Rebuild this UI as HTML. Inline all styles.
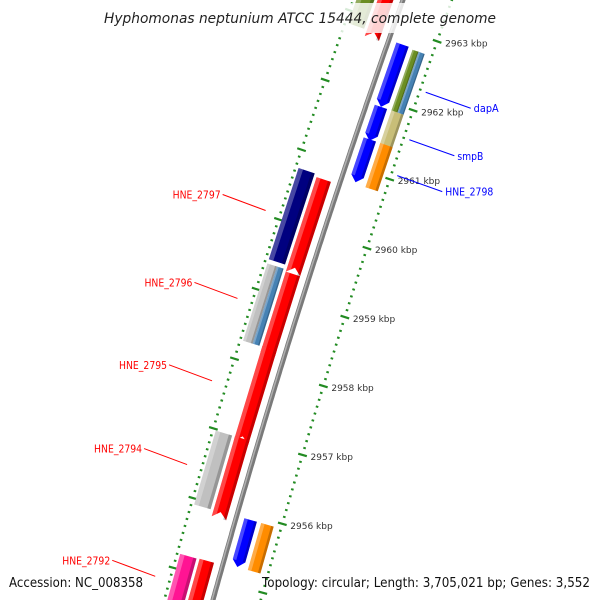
<!DOCTYPE html>
<html><head><meta charset="utf-8"><style>
html,body{margin:0;padding:0;background:#fff;}
svg{display:block;font-family:"DejaVu Sans","Liberation Sans",sans-serif;}
</style></head><body>
<svg id="map" width="600" height="600" viewBox="0 0 600 600" xmlns="http://www.w3.org/2000/svg">
<g id="ticks"></g>
<g id="backbone"></g>
<g id="features"></g>
<g id="labels"></g>
<rect x="95" y="3" width="410" height="30" fill="#fff" opacity="0.82"/>
<text x="104" y="23" textLength="392" lengthAdjust="spacingAndGlyphs" font-size="14" font-style="italic" fill="#222">Hyphomonas neptunium ATCC 15444, complete genome</text>
<text x="9" y="587" textLength="134" lengthAdjust="spacingAndGlyphs" font-size="13" fill="#111">Accession: NC_008358</text>
<text x="262" y="587" textLength="328" lengthAdjust="spacingAndGlyphs" font-size="13" fill="#111">Topology: circular; Length: 3,705,021 bp; Genes: 3,552</text>
</svg>
<script>
// Data
const tickMajors = [2956,2957,2958,2959,2960,2961,2962,2963];
const tickLabels = ["2956 kbp","2957 kbp","2958 kbp","2959 kbp","2960 kbp","2961 kbp","2962 kbp","2963 kbp"];
const featStart = [2962.80,2961.90,2961.43,2955.93, 2962.78,2962.78,2961.90,2961.43,2955.93, 2963.54,2960.71,2959.35,2958.28,2956.98,2955.22, 2963.54,2960.75,2959.38,2959.38,2956.98,2955.21];
const featEnd   = [2961.90,2961.41,2960.81,2955.25, 2961.90,2961.90,2961.37,2960.79,2955.25, 2962.83,2959.44,2958.28,2957.01,2955.92,2954.54, 2962.83,2959.44,2958.27,2958.27,2955.92,2954.54];
const featLane  = ["ri","ri","ri","ri", "roa","rob","ro","ro","ro", "li","li","li","li","li","li", "lo","lo","loa","lob","lo","lo"];
const featColor = ["#0000ff","#0000ff","#0000ff","#0000ff", "#6b8e23","#4682b4","#c8be78","#ff8c00","#ff8c00", "#ff0000","#ff0000","#ff0000","#ff0000","#ff0000","#ff0000", "#6b8e23","#000080","#c0c0c0","#4682b4","#c0c0c0","#ff1493"];
const featArrow = ["down","down","down","down", "","","","","", "up","up","up","up","up","up", "","","","","",""];
const labelText = ["HNE_2797","HNE_2796","HNE_2795","HNE_2794","HNE_2792","dapA","smpB","HNE_2798"];
const labelColor= ["#ff0000","#ff0000","#ff0000","#ff0000","#ff0000","#0000ff","#0000ff","#0000ff"];
const labelKbp  = [2960.06,2958.80,2957.62,2956.42,2954.82,2962.29,2961.60,2961.08];
const labelLen  = [48,48,48,48,48,25,26,48];

const lanes = {ri:[8,21],roa:[25.5,32],rob:[32,38.5],ro:[25.5,38.5],li:[-24,-9],lo:[-44,-27],loa:[-44,-34],lob:[-34,-27]};
const NS="http://www.w3.org/2000/svg";
const A=-0.3567,B=6.67e-5;
function yOf(k){return 26+(2963-k)*69.3;}
function xb(y){return 403+A*y+B*y*y;}
function P(k,off){const y=yOf(k);const d=A+2*B*y;const n=Math.hypot(1,d);return [xb(y)+off/n, y-off*d/n];}
function mk(tag,attrs,parent){const e=document.createElementNS(NS,tag);for(const a in attrs)e.setAttribute(a,attrs[a]);parent.appendChild(e);return e;}
function pts(arr){return arr.map(p=>p[0].toFixed(1)+","+p[1].toFixed(1)).join(" ");}

// backbone
const bb=document.getElementById('backbone');
let bl=[];for(let k=2964.5;k>=2954.5;k-=0.05)bl.push(P(k,0));
let b1=mk('polyline',{points:pts(bl),fill:'none',stroke:'#7a7a7a','stroke-width':5},bb);


let b2=mk('polyline',{points:pts(bl.map(p=>[p[0]-1,p[1]])),fill:'none',stroke:'#b0b0b0','stroke-width':1.5},bb);



// ticks
const tg=document.getElementById('ticks');
for(let i=Math.round(2954.5*10);i<=Math.round(2963.8*10);i++){
  const k=i/10;const major=(i%10===0);
  [46,-47].forEach(r=>{
    const h=major?4.5:1.3;
    const a=P(k,r-h),b=P(k,r+h);
    const l=mk('line',{x1:a[0],y1:a[1],x2:b[0],y2:b[1],stroke:'#228b22','stroke-width':major?2.2:2},tg);
    
    
  });
}
tickMajors.forEach((k,i)=>{
  const p=P(k,46);
  const t=mk('text',{x:p[0]+8,y:p[1]+5,'font-size':9,fill:'#333'},tg);
  t.textContent=tickLabels[i];
  
  
});

// features
const fg=document.getElementById('features');
featStart.forEach((s,i)=>{
  const e=featEnd[i];const [o1,o2]=lanes[featLane[i]];const om=(o1+o2)/2;
  const tip=0.09;let poly;
  if(featArrow[i]==='up'){poly=[P(s,o1),P(s,o2),P(e-tip,o2),P(e,om),P(e-tip,o1)];}
  else if(featArrow[i]==='down'){poly=[P(s,o1),P(s,o2),P(e+tip,o2),P(e,om),P(e+tip,o1)];}
  else poly=[P(s,o1),P(s,o2),P(e,o2),P(e,o1)];
  const g=mk('g',{},fg);
  
  
  mk('polygon',{points:pts(poly),fill:featColor[i]},g);
  const w=o2-o1;const e2=featArrow[i]==='up'?e-tip:(featArrow[i]==='down'?e+tip:e);
  mk('polygon',{points:pts([P(s,o1),P(s,o1+w*0.28),P(e2,o1+w*0.28),P(e2,o1)]),fill:'#fff',opacity:0.28},g);
  mk('polygon',{points:pts([P(s,o2-w*0.2),P(s,o2),P(e2,o2),P(e2,o2-w*0.2)]),fill:'#000',opacity:0.22},g);
});

// labels
const lg=document.getElementById('labels');
labelText.forEach((t,i)=>{
  const left=labelColor[i]==='#ff0000';
  const k=labelKbp[i];
  const a=P(k,left?-62:52);
  const b=left?[a[0]-43,a[1]-16]:[a[0]+45,a[1]+16];
  const l=mk('line',{x1:a[0],y1:a[1],x2:b[0],y2:b[1],stroke:labelColor[i],'stroke-width':1},lg);
  
  
  const tx=mk('text',{x:left?b[0]-2-labelLen[i]:b[0]+3,y:b[1]+4,'font-size':11,fill:labelColor[i],textLength:labelLen[i],lengthAdjust:'spacingAndGlyphs'},lg);
  tx.textContent=t;
  
  
});
</script>
</body></html>
